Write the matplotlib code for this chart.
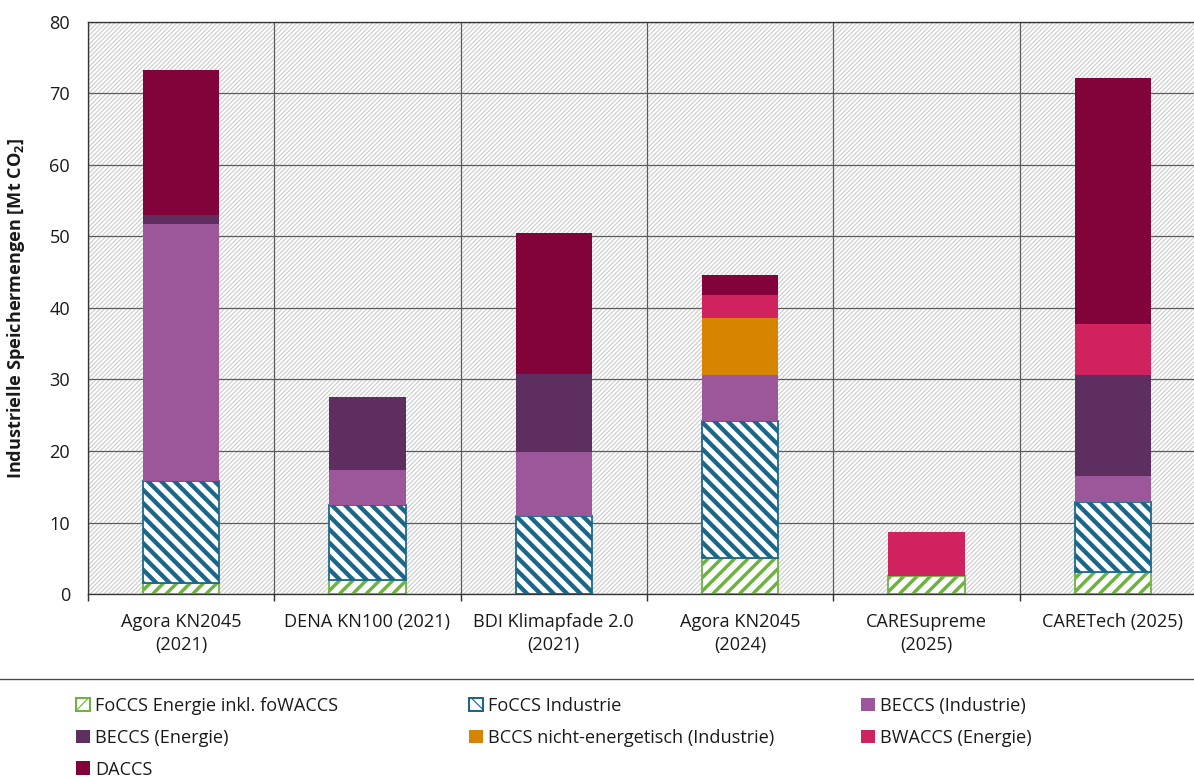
import matplotlib
matplotlib.use("Agg")
import matplotlib.pyplot as plt
from matplotlib.patches import Rectangle, Patch
from matplotlib.lines import Line2D
import numpy as np

# ---------------- data ----------------
categories = ["Agora KN2045\n(2021)", "DENA KN100 (2021)", "BDI Klimapfade 2.0\n(2021)",
              "Agora KN2045\n(2024)", "CARESupreme\n(2025)", "CARETech (2025)"]
foccs_energie = [1.6, 2.0, 0.0, 5.0, 2.5, 3.1]
foccs_industrie = [14.2, 10.4, 10.9, 19.2, 0.0, 9.7]
beccs_industrie = [35.9, 5.0, 9.0, 6.4, 0.0, 3.7]
beccs_energie = [1.3, 10.2, 10.9, 0.0, 0.0, 14.1]
bccs_nicht_energetisch = [0.0, 0.0, 0.0, 8.0, 0.0, 0.0]
bwaccs_energie = [0.0, 0.0, 0.0, 3.2, 6.2, 7.2]
daccs = [20.3, 0.0, 19.7, 2.8, 0.0, 34.4]

series_labels = ["FoCCS Energie inkl. foWACCS", "FoCCS Industrie", "BECCS (Industrie)",
                 "BECCS (Energie)", "BCCS nicht-energetisch (Industrie)", "BWACCS (Energie)", "DACCS"]
yticks = [0, 10, 20, 30, 40, 50, 60, 70, 80]
ylabel = "Industrielle Speichermengen [Mt CO$_\\mathbf{2}$]"

# ---------------- style ----------------
DPI = 80
W, H = 1194, 779
plt.rcParams['font.family'] = ['Open Sans', 'DejaVu Sans']
plt.rcParams['mathtext.fontset'] = 'custom'
plt.rcParams['mathtext.rm'] = 'Open Sans'
plt.rcParams['mathtext.bf'] = 'Open Sans:bold'
FS = 16.3
TXT = '#1a1a1a'
GRID = '#5a5a5a'

series = [foccs_energie, foccs_industrie, beccs_industrie, beccs_energie,
          bccs_nicht_energetisch, bwaccs_energie, daccs]
colors = ['#6db33f', '#1b678b', '#9c579b', '#5e2e60', '#d78500', '#cf225e', '#820339']
hatches = ['//', '\\\\', None, None, None, None, None]
hatch_lw = [3.1, 3.9, None, None, None, None, None]

fig = plt.figure(figsize=(W / DPI, H / DPI), dpi=DPI)
ax = fig.add_axes([88 / W, (H - 594) / H, (1206 - 88) / W, (594 - 22) / H])

# hatched background
bg = Rectangle((0, 0), 1, 1, transform=ax.transAxes, facecolor='white',
               edgecolor='#cbcbcb', hatch='//////', linewidth=0, zorder=0.1)
try:
    bg.set_hatch_linewidth(1.0)
except Exception:
    pass
ax.add_patch(bg)

x = np.arange(len(categories))
bottom = np.zeros(len(categories))
bw = 0.41
for vals, col, h, hl in zip(series, colors, hatches, hatch_lw):
    v = np.array(vals, dtype=float)
    m = v > 0
    if h is None:
        bars = ax.bar(x[m], v[m], bottom=bottom[m], width=bw, color=col,
                      edgecolor=col, linewidth=0, zorder=2)
    else:
        bars = ax.bar(x[m], v[m], bottom=bottom[m], width=bw, facecolor='white',
                      edgecolor=col, linewidth=1.6, hatch=h, zorder=2)
        for p in bars:
            try:
                p.set_hatch_linewidth(hl)
            except Exception:
                pass
    bottom += v

ax.set_xlim(-0.5, len(categories) - 0.5)
ax.set_ylim(0, 80)
ax.set_yticks(yticks)
ax.set_xticks(x)
ax.set_xticklabels(categories, fontsize=FS, color=TXT, linespacing=1.36)
ax.set_xticks(np.arange(-0.5, len(categories), 1.0), minor=True)
ax.tick_params(axis='x', which='major', length=0, pad=17)
ax.tick_params(axis='x', which='minor', length=6, width=1.3, color='#333333', direction='out')
ax.tick_params(axis='y', length=0, pad=16, labelsize=FS, labelcolor=TXT)

ax.set_axisbelow(True)
ax.grid(axis='y', which='major', color=GRID, linewidth=1.1, zorder=0.5)
ax.grid(axis='x', which='minor', color=GRID, linewidth=1.1, zorder=0.5)
ax.grid(axis='x', which='major', visible=False)

for s in ['left', 'bottom', 'top', 'right']:
    ax.spines[s].set_color('#333333')
    ax.spines[s].set_linewidth(1.2)

ax.set_ylabel(ylabel, fontsize=FS, fontweight='bold', color=TXT)
ax.yaxis.set_label_coords((27 - 88) / (1206 - 88), 0.5)

# separator line
fig.add_artist(Line2D([0, 1], [1 - 679 / H] * 2, transform=fig.transFigure,
                      color='#4a4a4a', linewidth=1.2))

# legend (row-wise as in the original, 3 columns)
handles = []
for col, h, hl in zip(colors, hatches, hatch_lw):
    if h is None:
        p = Patch(facecolor=col, edgecolor=col, linewidth=0)
    else:
        p = Patch(facecolor='white', edgecolor=col, linewidth=1.8, hatch=h)
        try:
            p.set_hatch_linewidth(hl)
        except Exception:
            pass
    handles.append(p)

col_x = [76, 469, 861]
col_items = [[0, 3, 6], [1, 4], [2, 5]]
for cx, items in zip(col_x, col_items):
    lg = fig.legend([handles[i] for i in items], [series_labels[i] for i in items],
                    loc='upper left', bbox_to_anchor=(cx / W, 1 - 697 / H),
                    frameon=False, fontsize=FS, handlelength=0.77, handleheight=0.77,
                    handletextpad=0.3, labelspacing=0.76, borderpad=0, borderaxespad=0,
                    labelcolor=TXT)

fig.savefig("out.png", dpi=DPI)
